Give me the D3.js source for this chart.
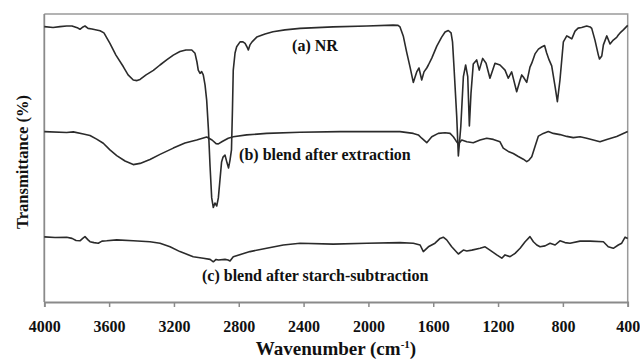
<!DOCTYPE html>
<html>
<head>
<meta charset="utf-8">
<script src="https://cdn.jsdelivr.net/npm/d3@7"></script>
<style>
  html, body { margin: 0; padding: 0; background: #fff; }
  svg { display: block; }
</style>
</head>
<body>
<script>
// FTIR spectra: [wavenumber (cm-1), transmittance (arb. %)]
const nrSpectrum = [
  [4000, 91.8], [3946, 91.5], [3903, 91.8], [3862, 92], [3829, 92], [3792, 91.3], [3780, 90.9],
  [3761, 91.7], [3749, 92], [3730, 91.2], [3706, 91], [3656, 90.4], [3632, 89.7], [3595, 86.2],
  [3558, 82.3], [3512, 78.4], [3483, 75.7], [3451, 74], [3428, 73.8], [3409, 74.2], [3372, 75.7],
  [3327, 77.2], [3286, 79], [3245, 80.7], [3204, 82.3], [3163, 83.5], [3126, 84], [3090, 84],
  [3070, 82.9], [3058, 80], [3050, 77.3], [3039, 76.2], [3029, 76.8], [3019, 75.7], [3008, 72.3],
  [2998, 67.3], [2987, 57.3], [2977, 45.1], [2967, 34.7], [2957, 31.5], [2947, 33], [2936, 32],
  [2926, 34.7], [2916, 40.7], [2906, 46.7], [2897, 48.3], [2885, 49], [2872, 46.3], [2863, 44.7],
  [2854, 47.3], [2845, 50.7], [2839, 64], [2834, 77.3], [2823, 83], [2813, 85.1], [2792, 86.7],
  [2774, 86.7], [2761, 86.2], [2749, 85], [2741, 84], [2731, 85.7], [2718, 86.7], [2689, 88.3],
  [2638, 89.3], [2589, 90.1], [2515, 90.7], [2422, 91.2], [2218, 91.7], [2010, 92], [1848, 92.3],
  [1817, 92.2], [1805, 91.7], [1785, 88.7], [1764, 83.3], [1743, 78.3], [1723, 73.2], [1702, 76.7],
  [1688, 78], [1671, 74], [1657, 76.7], [1640, 78], [1630, 79], [1609, 81.3], [1578, 85.3],
  [1548, 88.3], [1527, 90], [1507, 90.5], [1490, 89.7], [1481, 86.7], [1472, 78.4], [1455, 61.8],
  [1445, 48.7], [1430, 58.4], [1414, 75.1], [1400, 79], [1387, 75.1], [1377, 58.7], [1367, 69.6],
  [1353, 79.3], [1332, 80.7], [1316, 77.3], [1295, 81.2], [1274, 79.6], [1250, 74.6], [1219, 79.6],
  [1188, 79], [1157, 77.3], [1137, 74.6], [1116, 76.7], [1085, 70.1], [1064, 74], [1054, 75.7],
  [1044, 75], [1023, 73.2], [1003, 78.3], [992, 79.6], [972, 82.7], [951, 84.3], [931, 85],
  [913, 85.5], [900, 83], [885, 80.7], [869, 78.7], [848, 71.8], [834, 66.8], [818, 74],
  [797, 86.7], [776, 88.7], [766, 88.4], [745, 87.7], [725, 90.3], [706, 91.3], [684, 91.5],
  [653, 92], [632, 91.7], [622, 91.2], [602, 87.3], [581, 82.3], [574, 81], [560, 82],
  [550, 85.7], [529, 88.7], [509, 86], [489, 87.3], [468, 88.2], [458, 89], [447, 89.7],
  [427, 90.7], [400, 92.2]
];

const extractedSpectrum = [
  [4000, 56.8], [3862, 56.5], [3821, 56.7], [3759, 56], [3718, 55.5], [3677, 54.3], [3636, 52.9],
  [3595, 50.7], [3553, 48.8], [3502, 47], [3451, 45.8], [3409, 46.2], [3348, 47.5], [3286, 49.2],
  [3204, 51.3], [3132, 53], [3060, 54], [2998, 55], [2965, 54], [2940, 52.8], [2926, 52.7],
  [2902, 53.5], [2865, 54.6], [2834, 55.1], [2751, 55.7], [2628, 56.2], [2422, 56.6], [2175, 56.8],
  [1805, 56.8], [1723, 56.2], [1692, 55.7], [1671, 54.6], [1640, 53.1], [1609, 55.1], [1569, 56.2],
  [1527, 56.4], [1496, 56.2], [1476, 55.1], [1459, 53.7], [1445, 52.7], [1424, 54], [1393, 53.4],
  [1353, 53.1], [1311, 54], [1270, 54.6], [1229, 54.2], [1188, 53.4], [1168, 51.3], [1137, 50.2],
  [1106, 49.5], [1075, 48.5], [1044, 47.6], [1023, 46.8], [1009, 47.3], [992, 48.4], [972, 51.8],
  [951, 55.3], [921, 56.2], [890, 56.8], [859, 56.2], [818, 55.8], [776, 55.2], [736, 54.8],
  [694, 55.1], [653, 54.6], [612, 54], [571, 53.4], [529, 54.2], [468, 55.2], [400, 56.8]
];

const subtractedSpectrum = [
  [4000, 21.7], [3934, 21.5], [3862, 21.6], [3829, 21.2], [3804, 20.5], [3780, 20.4], [3761, 21.3],
  [3749, 21.8], [3730, 20.7], [3718, 20.1], [3693, 19.8], [3667, 19.6], [3644, 20.3], [3615, 20.4],
  [3553, 20.7], [3451, 20.4], [3348, 20.1], [3286, 19.6], [3224, 18.4], [3163, 16.8], [3081, 15.1],
  [3019, 14.6], [2977, 14.2], [2957, 13.4], [2940, 14.2], [2926, 14], [2885, 14.2], [2866, 14],
  [2854, 13.7], [2834, 15.1], [2731, 16.8], [2628, 17.9], [2525, 19], [2422, 19.6], [2217, 19.3],
  [2010, 19.6], [1805, 19.8], [1723, 19.6], [1681, 19], [1661, 16.8], [1630, 18.4], [1589, 19.6],
  [1558, 21.2], [1538, 21.6], [1517, 20.7], [1486, 18.4], [1445, 16], [1414, 17.3], [1393, 17],
  [1362, 17.3], [1311, 17.9], [1280, 18.4], [1250, 17.3], [1208, 15.7], [1177, 14.6], [1157, 15.7],
  [1126, 15.1], [1095, 16.2], [1064, 17.9], [1033, 20.1], [1003, 21.8], [982, 20.1], [961, 19],
  [941, 18.4], [910, 18.7], [879, 19.6], [848, 19], [818, 20.4], [787, 19.8], [756, 19.6],
  [694, 20.3], [632, 20.3], [550, 20.1], [520, 18.4], [489, 17.9], [458, 19], [437, 19.6],
  [416, 21.6], [400, 21.2]
];

const xTicks = [4000, 3600, 3200, 2800, 2400, 2000, 1600, 1200, 800, 400];

// curve captions, anchored at [wavenumber, transmittance]
const captions = [
  ["(a) NR", 2471, 83.8],
  ["(b) blend after extraction", 2798, 47.3],
  ["(c) blend after starch-subtraction", 3027, 7]
];

const width = 640;
const height = 359;
const margin = { top: 14, right: 12.3, bottom: 57, left: 44.3 };
const serif = "'Liberation Serif', 'Times New Roman', Times, serif";

const x = d3.scaleLinear()
  .domain([4000, 400])
  .range([margin.left, width - margin.right]);

const y = d3.scaleLinear()
  .domain([0, 96])
  .range([height - margin.bottom, margin.top]);

const svg = d3.select("body").append("svg")
  .attr("width", width)
  .attr("height", height)
  .style("background", "#fff");

// frame (top and right)
svg.append("path")
  .attr("d", `M${x(4000)},${y(96)}H${x(400)}V${y(0)}`)
  .attr("fill", "none")
  .attr("stroke", "#9a9a9a")
  .attr("stroke-width", 1.5);

// left axis line, no ticks
svg.append("line")
  .attr("x1", x(4000)).attr("x2", x(4000))
  .attr("y1", y(96)).attr("y2", y(0))
  .attr("stroke", "#8a8a8a")
  .attr("stroke-width", 1.8);

// bottom axis
const xAxis = svg.append("g")
  .attr("transform", `translate(0,${y(0)})`)
  .call(d3.axisBottom(x).tickValues(xTicks).tickSize(5).tickPadding(14).tickFormat(d3.format("d")))
  .attr("font-family", serif)
  .attr("font-size", 16)
  .attr("font-weight", "bold");

xAxis.select(".domain")
  .attr("stroke", "#8a8a8a")
  .attr("stroke-width", 1.8);
xAxis.selectAll(".tick line")
  .attr("stroke", "#8a8a8a")
  .attr("stroke-width", 1.5);
xAxis.selectAll(".tick text")
  .attr("fill", "#111");

// spectra
const line = d3.line()
  .x(d => x(d[0]))
  .y(d => y(d[1]));

[nrSpectrum, extractedSpectrum, subtractedSpectrum].forEach(s => {
  svg.append("path")
    .datum(s)
    .attr("fill", "none")
    .attr("stroke", "#2b2b2b")
    .attr("stroke-width", 1.6)
    .attr("stroke-linejoin", "round")
    .attr("d", line);
});

// captions
svg.selectAll("text.caption")
  .data(captions)
  .enter()
  .append("text")
  .attr("class", "caption")
  .attr("x", d => x(d[1]))
  .attr("y", d => y(d[2]))
  .attr("fill", "#111")
  .style("font-family", serif)
  .style("font-weight", "bold")
  .style("font-size", "16px")
  .text(d => d[0]);

// axis titles
const xTitle = svg.append("text")
  .attr("x", (x(4000) + x(400)) / 2)
  .attr("y", 355)
  .attr("text-anchor", "middle")
  .attr("fill", "#111")
  .style("font-family", serif)
  .style("font-weight", "bold")
  .style("font-size", "19px");
xTitle.append("tspan").text("Wavenumber (cm");
xTitle.append("tspan").attr("dy", -7).style("font-size", "11px").text("-1");
xTitle.append("tspan").attr("dy", 7).text(")");

svg.append("text")
  .attr("transform", `translate(28,${(y(0) + y(96)) / 2 + 4}) rotate(-90)`)
  .attr("text-anchor", "middle")
  .attr("fill", "#111")
  .style("font-family", serif)
  .style("font-weight", "bold")
  .style("font-size", "16.5px")
  .text("Transmittance (%)");
</script>
</body>
</html>
